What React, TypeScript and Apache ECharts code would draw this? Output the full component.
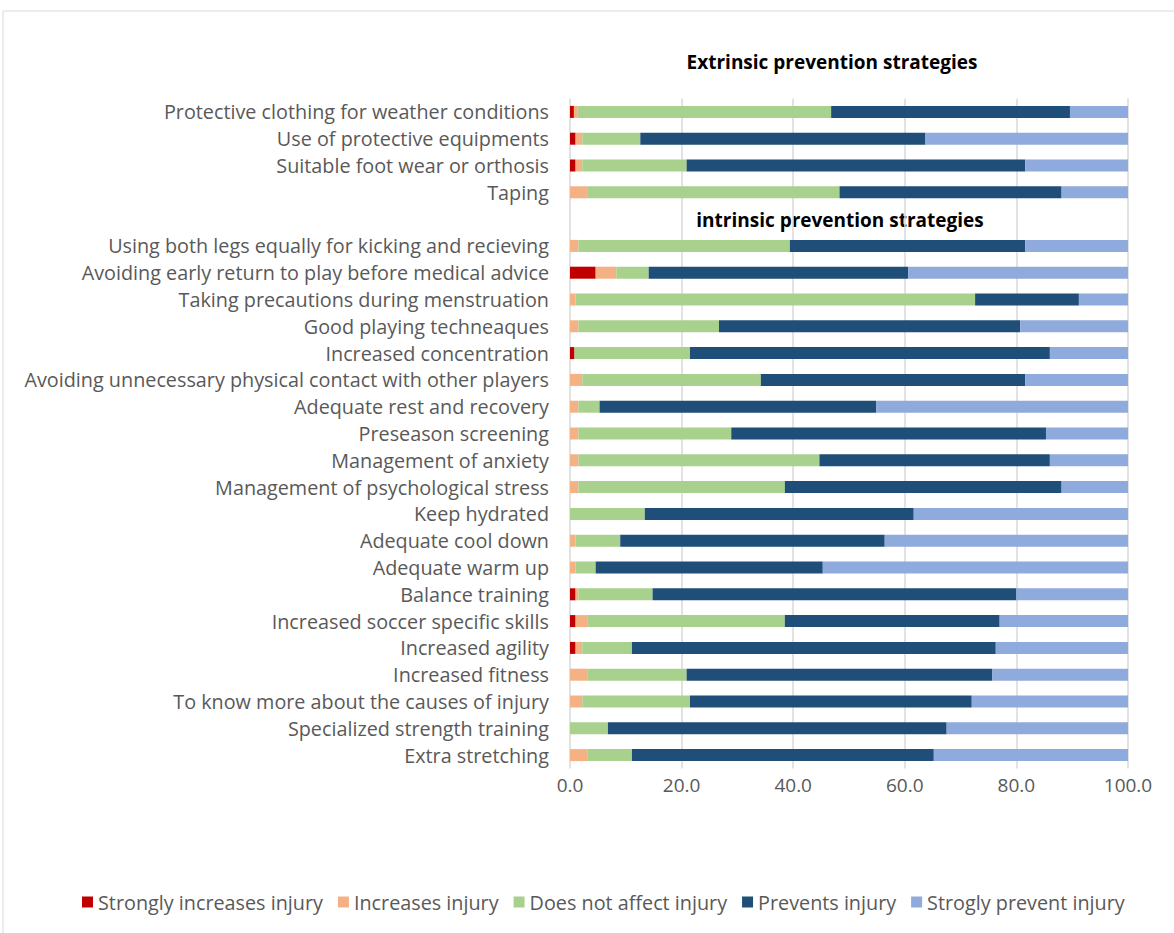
import React, { useEffect, useRef } from "react";
import * as echarts from "echarts";

const categories = [
  "Protective clothing for weather conditions",
  "Use of protective equipments",
  "Suitable foot wear or orthosis",
  "Taping",
  "",
  "Using both legs equally for kicking and recieving",
  "Avoiding early return to play before medical advice",
  "Taking precautions during menstruation",
  "Good playing techneaques",
  "Increased concentration",
  "Avoiding unnecessary physical contact with other players",
  "Adequate rest and recovery",
  "Preseason screening",
  "Management of anxiety",
  "Management of psychological stress",
  "Keep hydrated",
  "Adequate cool down",
  "Adequate warm up",
  "Balance training",
  "Increased soccer specific skills",
  "Increased agility",
  "Increased fitness",
  "To know more about the causes of injury",
  "Specialized strength training",
  "Extra stretching",
];

const stronglyIncreases = [0.7, 1.0, 1.0, 0, null, 0, 4.6, 0, 0, 0.8, 0, 0, 0, 0, 0, 0, 0, 0, 1.0, 1.0, 1.0, 0, 0, 0, 0];
const increases = [0.7, 1.2, 1.2, 3.2, null, 1.5, 3.7, 1.0, 1.5, 0, 2.2, 1.5, 1.5, 1.5, 1.5, 0, 1.0, 1.0, 0.5, 2.2, 1.2, 3.2, 2.2, 0, 3.2];
const doesNotAffect = [45.4, 10.4, 18.7, 45.1, null, 37.9, 5.8, 71.6, 25.2, 20.7, 32.0, 3.8, 27.4, 43.2, 37.0, 13.4, 8.0, 3.6, 13.3, 35.3, 8.9, 17.7, 19.3, 6.8, 7.9];
const prevents = [42.8, 51.1, 60.7, 39.8, null, 42.2, 46.5, 18.6, 54.0, 64.5, 47.4, 49.6, 56.4, 41.3, 49.6, 48.2, 47.4, 40.7, 65.2, 38.5, 65.2, 54.8, 50.5, 60.7, 54.1];
const stronglyPrevents = [10.4, 36.3, 18.4, 11.9, null, 18.4, 39.4, 8.8, 19.3, 14.0, 18.4, 45.1, 14.7, 14.0, 11.9, 38.4, 43.6, 54.7, 20.0, 23.0, 23.7, 24.3, 28.0, 32.5, 34.8];

const seriesNames = [
  "Strongly increases injury",
  "Increases injury",
  "Does not affect injury",
  "Prevents injury",
  "Strogly prevent injury",
];
const seriesData = [stronglyIncreases, increases, doesNotAffect, prevents, stronglyPrevents];
const colors = ["#C00000", "#F4B183", "#A9D18E", "#1F4E79", "#8FAADC"];

const FONT = "Open Sans";

export default function App() {
  const ref = useRef<HTMLDivElement>(null);
  useEffect(() => {
    if (!ref.current) return;
    const chart = echarts.init(ref.current, undefined, { renderer: "svg" });
    chart.setOption({
      animation: false,
      backgroundColor: "#ffffff",
      textStyle: { fontFamily: FONT },
      graphic: [
        {
          type: "rect",
          shape: { x: 3, y: 11, width: 1190, height: 940 },
          style: { fill: "none", stroke: "#d9d9d9", lineWidth: 1 },
          silent: true,
        },
        {
          type: "text",
          x: 832,
          y: 62,
          style: {
            text: "Extrinsic prevention strategies",
            font: `bold 19px ${FONT}`,
            fill: "#000000",
            textAlign: "center",
            textVerticalAlign: "middle",
          },
        },
        {
          type: "text",
          x: 840,
          y: 220,
          style: {
            text: "intrinsic prevention strategies",
            font: `bold 19px ${FONT}`,
            fill: "#000000",
            textAlign: "center",
            textVerticalAlign: "middle",
          },
        },
      ],
      legend: {
        left: 77,
        top: 887,
        itemWidth: 11,
        itemHeight: 11,
        itemGap: 15,
        icon: "rect",
        textStyle: { color: "#595959", fontSize: 19.8, fontFamily: FONT },
        data: seriesNames,
      },
      grid: { left: 570, right: 46, top: 98.5, bottom: 933 - 768.5, containLabel: false },
      xAxis: {
        type: "value",
        min: 0,
        max: 100,
        interval: 20,
        axisLine: { show: false },
        axisTick: { show: false },
        splitLine: { show: true, lineStyle: { color: "#d9d9d9", width: 1.5 } },
        axisLabel: {
          color: "#595959",
          fontSize: 19,
          fontFamily: FONT,
          margin: 7,
          formatter: (v: number) => v.toFixed(1),
        },
      },
      yAxis: {
        type: "category",
        inverse: true,
        data: categories,
        axisLine: { show: false },
        axisTick: { show: false },
        axisLabel: { color: "#595959", fontSize: 19.8, fontFamily: FONT, margin: 21 },
      },
      series: seriesNames.map((name, i) => ({
        name,
        type: "bar",
        stack: "total",
        barWidth: 12,
        itemStyle: { color: colors[i] },
        data: seriesData[i],
      })),
    });
    return () => chart.dispose();
  }, []);
  return (
    <div
      ref={ref}
      style={{ position: "fixed", left: 0, top: 0, width: 1174, height: 933 }}
    />
  );
}
